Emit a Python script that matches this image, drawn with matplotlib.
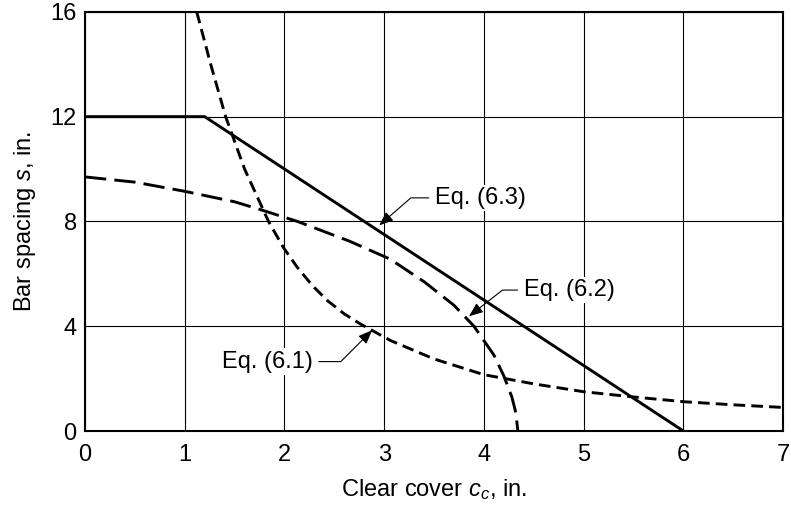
import matplotlib
matplotlib.use("Agg")
import matplotlib.pyplot as plt

plt.rcParams['font.family'] = ['Liberation Sans', 'DejaVu Sans']
plt.rcParams['mathtext.fontset'] = 'custom'
plt.rcParams['mathtext.rm'] = 'Liberation Sans'
plt.rcParams['mathtext.it'] = 'Liberation Sans:italic'

# Eq. (6.3) - solid
cc_63 = [0, 1.2, 6.0]
s_63 = [12, 12, 0]

# Eq. (6.2) - long dash
cc_62 = [0, 0.5, 1.0, 1.5, 1.76, 2.13, 2.65, 3.06, 3.4, 3.7, 3.9, 4.1, 4.2,
         4.28, 4.32, 4.34]
s_62 = [9.7, 9.5, 9.15, 8.75, 8.45, 8.0, 7.25, 6.56, 5.7, 4.8, 4.0, 2.9, 2.1,
        1.3, 0.7, 0]

# Eq. (6.1) - short dash
cc_61 = [1.12, 1.26, 1.41, 1.6, 1.84, 1.99, 2.13, 2.28, 2.43, 2.6, 2.76,
         3.06, 3.5, 4.0, 4.5, 5.0, 5.5, 6.0, 6.5, 7.0]
s_61 = [16, 14, 12, 10, 8.0, 7.0, 6.24, 5.55, 4.98, 4.47, 4.09,
        3.46, 2.75, 2.15, 1.8, 1.5, 1.3, 1.12, 1.0, 0.9]

xticks = [0, 1, 2, 3, 4, 5, 6, 7]
yticks = [0, 4, 8, 12, 16]

fig = plt.figure(figsize=(7.91, 5.05), dpi=100)
ax = fig.add_axes([0.1075, 0.1465, 0.8825, 0.8300])

ax.plot(cc_63, s_63, '-', color='black', lw=2.1, zorder=3)
ax.plot(cc_62, s_62, color='black', lw=2.1, dashes=(7.3, 2.8), zorder=3)
ax.plot(cc_61, s_61, color='black', lw=2.1, dashes=(4.0, 2.1), zorder=3)

ax.set_xlim(0, 7)
ax.set_ylim(0, 16)
ax.set_xticks(xticks)
ax.set_yticks(yticks)
ax.grid(True, color='black', lw=0.8)
ax.tick_params(length=0, labelsize=17)
ax.tick_params(axis='x', pad=9)
ax.tick_params(axis='y', pad=6)
for sp in ax.spines.values():
    sp.set_linewidth(1.5)

ax.set_xlabel('Clear cover $c_c$, in.', fontsize=17, labelpad=8)
ax.set_ylabel('Bar spacing $s$, in.', fontsize=17, labelpad=9)

box = dict(facecolor='white', edgecolor='none', pad=1.5)
arrow = dict(arrowstyle='-|>,head_length=0.5,head_width=0.2', color='black',
             lw=0.8, shrinkA=3, shrinkB=0)

ax.annotate('Eq. (6.3)', xy=(2.95, 7.85), xytext=(3.51, 8.9),
            ha='left', va='center', fontsize=17, bbox=box, zorder=4,
            arrowprops=dict(arrow, connectionstyle='angle,angleA=0,angleB=41,rad=0'))
ax.annotate('Eq. (6.2)', xy=(3.85, 4.38), xytext=(4.40, 5.38),
            ha='left', va='center', fontsize=17, bbox=box, zorder=4,
            arrowprops=dict(arrow, connectionstyle='angle,angleA=0,angleB=38,rad=0'))
ax.annotate('Eq. (6.1)', xy=(2.88, 3.85), xytext=(2.28, 2.65),
            ha='right', va='center', fontsize=17, bbox=box, zorder=4,
            arrowprops=dict(arrow, connectionstyle='angle,angleA=0,angleB=45,rad=0'))

fig.savefig('out.png', dpi=100)
